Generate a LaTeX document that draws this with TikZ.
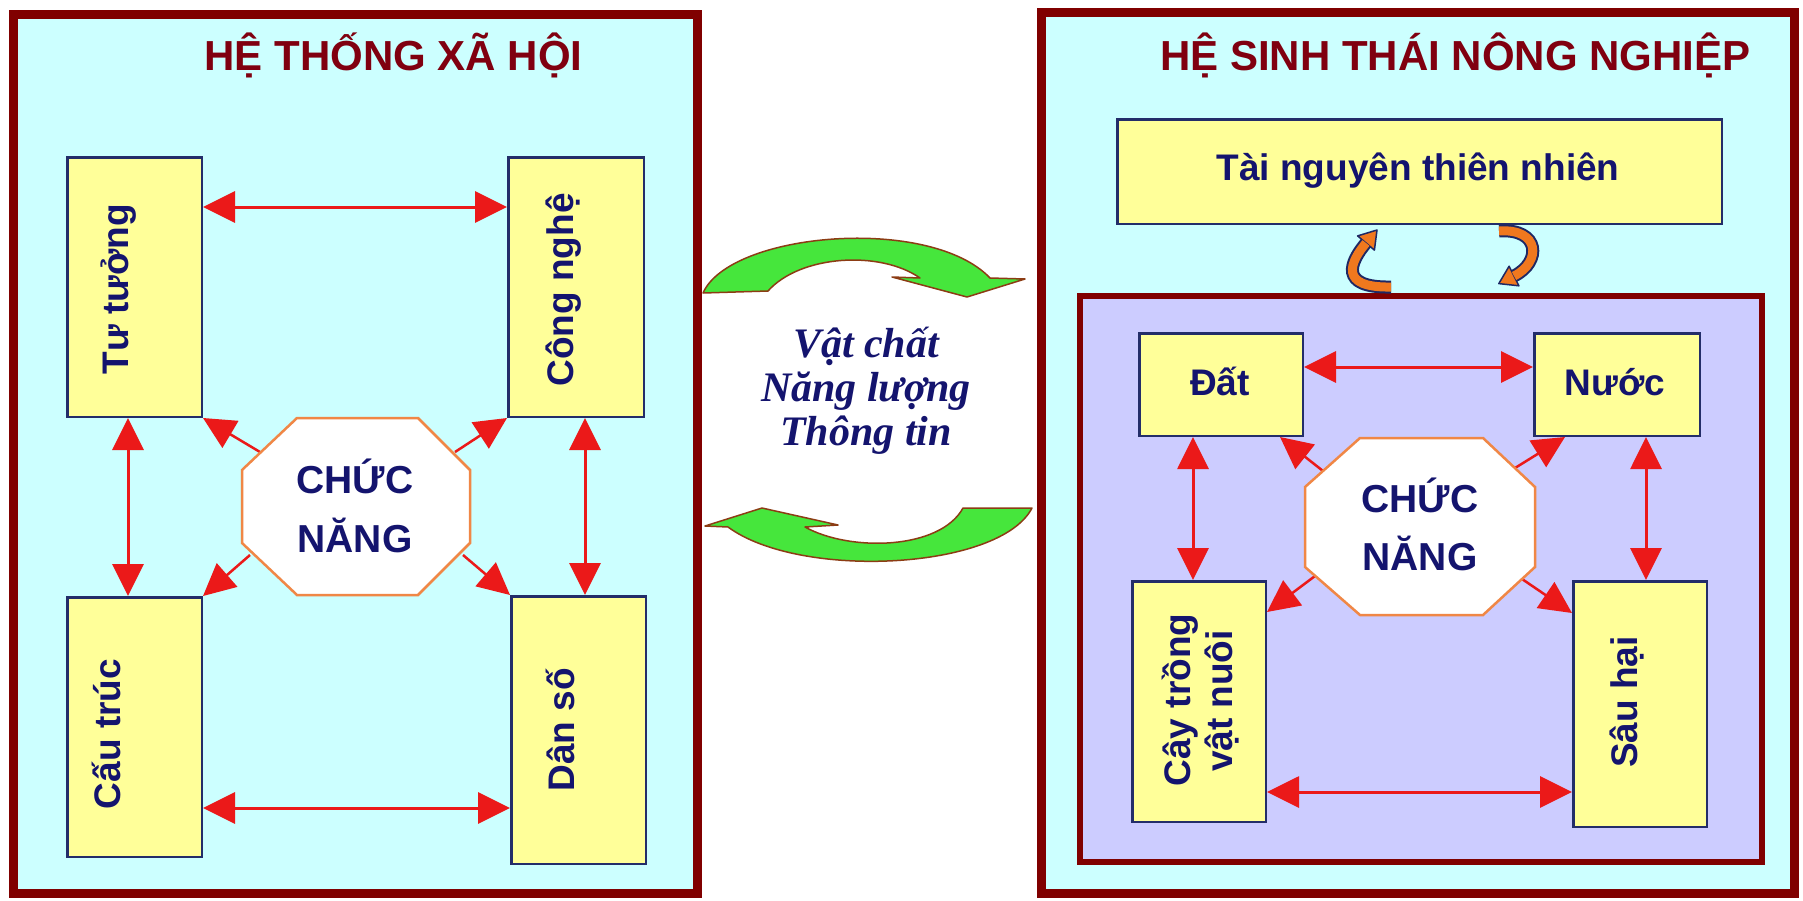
\documentclass[tikz,border=0pt]{standalone}
\usepackage{fontspec}
\setmainfont{Liberation Sans}
\newfontfamily\vnserif{Liberation Serif}
\usetikzlibrary{arrows.meta}
\definecolor{framec}{RGB}{128,0,0}
\definecolor{cyanbg}{RGB}{204,255,255}
\definecolor{lavbg}{RGB}{204,204,255}
\definecolor{boxyel}{RGB}{255,255,153}
\definecolor{boxline}{RGB}{35,45,105}
\definecolor{navyt}{RGB}{20,20,110}
\definecolor{titlec}{RGB}{128,0,16}
\definecolor{redc}{RGB}{235,25,25}
\definecolor{octline}{RGB}{240,135,70}
\definecolor{greenc}{RGB}{70,230,60}
\definecolor{greenline}{RGB}{140,60,20}
\definecolor{orangec}{RGB}{240,120,30}
\definecolor{orangeline}{RGB}{30,40,100}
\tikzset{
  >={Triangle[length=32pt,width=31pt]},
  box/.style={draw=boxline, line width=2.5pt, fill=boxyel, inner sep=0pt},
  lbl/.style={font=\fontsize{37}{44}\selectfont\bfseries, text=navyt, inner sep=0pt},
  octlbl/.style={font=\fontsize{39}{46}\selectfont\bfseries, text=navyt, inner sep=0pt},
  ttl/.style={font=\fontsize{42}{50}\selectfont\bfseries, text=titlec, inner sep=0pt},
  midtxt/.style={font=\vnserif\fontsize{42}{48}\selectfont\bfseries\itshape, text=navyt, inner sep=0pt},
  frm/.style={draw=framec, line width=9pt},
  dbl/.style={draw=redc, line width=3pt, <->},
  sgl/.style={draw=redc, line width=2.5pt, ->},
  oct/.style={draw=octline, line width=2.5pt, fill=white, line join=miter},
  garrow/.style={fill=greenc, draw=greenline, line width=1.5pt, line join=round},
  obandout/.style={draw=orangeline, line width=13pt},
  obandin/.style={draw=orangec, line width=9pt},
  ohead/.style={fill=orangec, draw=orangeline, line width=1.5pt, line join=round},
}
\begin{document}
\begin{tikzpicture}[x=1pt,y=-1pt]
\useasboundingbox (0,0) rectangle (1803,900);
\fill[white] (0,0) rectangle (1803,900);

% frames
\draw[frm, fill=cyanbg] (13.5,14.5) rectangle (697.5,893.5);
\draw[frm, fill=cyanbg] (1041.5,12.5) rectangle (1794.5,893.5);
\draw[draw=framec, line width=6pt, fill=lavbg] (1080,296) rectangle (1762,862);

% titles
\node[ttl, anchor=base] (t1) at (393.5,70) {HỆ THỐNG XÃ HỘI};
\node[ttl, anchor=base] (t2) at (1455.5,70) {HỆ SINH THÁI NÔNG NGHIỆP};

% left boxes
\node[box, minimum width=134.5pt, minimum height=259.5pt] (tu) at (134.5,287) {};
\node[box, minimum width=135.5pt, minimum height=259.5pt] (cn) at (576,287) {};
\node[box, minimum width=134.5pt, minimum height=259.5pt] (ct) at (134.5,727) {};
\node[box, minimum width=134.5pt, minimum height=267.5pt] (ds) at (578.5,730) {};

% right boxes
\node[box, minimum width=604.5pt, minimum height=104.5pt] (tn) at (1419.5,171.5) {};
\node[box, minimum width=163.5pt, minimum height=102.5pt] (dat) at (1221,384.5) {};
\node[box, minimum width=165.5pt, minimum height=102.5pt] (nuoc) at (1617,384.5) {};
\node[box, minimum width=133.5pt, minimum height=240.5pt] (cay) at (1199,701.5) {};
\node[box, minimum width=133.5pt, minimum height=245.5pt] (sau) at (1640,704) {};

% labels
\node[lbl, rotate=90, anchor=base] (tuL) at (128.5,289) {Tư tưởng};
\node[lbl, rotate=90, anchor=base] (cnL) at (573,290) {Công nghệ};
\node[lbl, rotate=90, anchor=base] (ctL) at (120,734) {Cấu trúc};
\node[lbl, rotate=90, anchor=base] (dsL) at (574,730) {Dân số};
\node[lbl, anchor=base] (tnL) at (1418,180) {Tài nguyên thiên nhiên};
\node[lbl, anchor=base] (datL) at (1220,395) {Đất};
\node[lbl, anchor=base] (nuocL) at (1615,395) {Nước};
\node[lbl, rotate=90, anchor=base] (cayL1) at (1190,700) {Cây trồng};
\node[lbl, rotate=90, anchor=base] (cayL2) at (1232,701) {vật nuôi};
\node[lbl, rotate=90, anchor=base] (sauL) at (1637,702) {Sâu hại};

% left double arrows
\draw[dbl] ([yshift=80pt]tu.east) -- ([yshift=80pt]cn.west);
\draw[dbl] ([yshift=-81pt]ct.east) -- ([yshift=-78pt]ds.west);
\draw[dbl] ([xshift=-6.5pt]tu.south) -- ([xshift=-6.5pt]ct.north);
\draw[dbl] ([xshift=9pt]cn.south) -- ([xshift=6.5pt]ds.north);

% right double arrows
\draw[dbl] ([yshift=17.5pt]dat.east) -- ([yshift=17.5pt]nuoc.west);
\draw[dbl] ([yshift=-90.5pt]cay.east) -- ([yshift=-88pt]sau.west);
\draw[dbl] ([xshift=-28pt]dat.south) -- ([xshift=-6pt]cay.north);
\draw[dbl] ([xshift=29pt]nuoc.south) -- ([xshift=6pt]sau.north);

% left diagonals
\coordinate (oa) at (260,452);
\coordinate (ob) at (455,452);
\coordinate (oc) at (250,555);
\coordinate (od) at (463,555);
\draw[sgl] (oa) -- (tu.south east);
\draw[sgl] (ob) -- (cn.south west);
\draw[sgl] (oc) -- (ct.north east);
\draw[sgl] (od) -- (ds.north west);

% right diagonals
\coordinate (pa) at (1323,471);
\coordinate (pb) at (1515,468);
\coordinate (pc) at (1315,576);
\coordinate (pd) at (1522,579);
\draw[sgl] (pa) -- ([xshift=59pt]dat.south);
\draw[sgl] (pb) -- ([xshift=-52pt]nuoc.south);
\draw[sgl] (pc) -- ([yshift=89.5pt]cay.east);
\draw[sgl] (pd) -- ([yshift=91pt]sau.west);

% octagons
\draw[oct] (297,418) -- (418,418) -- (470,470) -- (470,543) -- (418,595) -- (297,595) -- (242,543) -- (242,470) -- cycle;
\coordinate (octL) at (356,506.5);
\draw[oct] (1360,438) -- (1483,438) -- (1535,487) -- (1535,567) -- (1483,615) -- (1360,615) -- (1305,567) -- (1305,487) -- cycle;
\coordinate (octR) at (1420,526.5);
\node[octlbl, anchor=base] (o1a) at (355,493) {CHỨC};
\node[octlbl, anchor=base] (o1b) at (355,552) {NĂNG};
\node[octlbl, anchor=base] (o2a) at (1420,512) {CHỨC};
\node[octlbl, anchor=base] (o2b) at (1420,570) {NĂNG};

% middle text
\node[midtxt, anchor=base] (m1) at (866,357) {Vật chất};
\node[midtxt, anchor=base] (m2) at (866,401) {Năng lượng};
\node[midtxt, anchor=base] (m3) at (866,445) {Thông tin};

% green curved arrows
\filldraw[garrow] (703,293) .. controls (730,232) and (930,215) .. (990,278) -- (1025,279) -- (967,297) -- (892,277) -- (920,278) .. controls (880,250) and (800,255) .. (768,291) -- cycle;
\filldraw[garrow] (1032,508) .. controls (1000,570) and (800,580) .. (728,527) -- (705,526) -- (762,508) -- (838,525) -- (805,527) .. controls (850,552) and (940,550) .. (963,508) -- cycle;

% orange small curved arrows
\draw[obandout] (1391,287) .. controls (1338,288) and (1350,262) .. (1366,243);
\filldraw[ohead] (1374.4,250.1) -- (1377,230) -- (1357.6,235.9) -- cycle;
\draw[obandin] (1391,287) .. controls (1338,288) and (1350,262) .. (1366,243);

\draw[obandout] (1499,231) .. controls (1540,228) and (1542,262) .. (1514,276);
\filldraw[ohead] (1518.9,285.8) -- (1498.8,283.6) -- (1509.1,266.2) -- cycle;
\draw[obandin] (1499,231) .. controls (1540,228) and (1542,262) .. (1514,276);
\end{tikzpicture}
\end{document}
